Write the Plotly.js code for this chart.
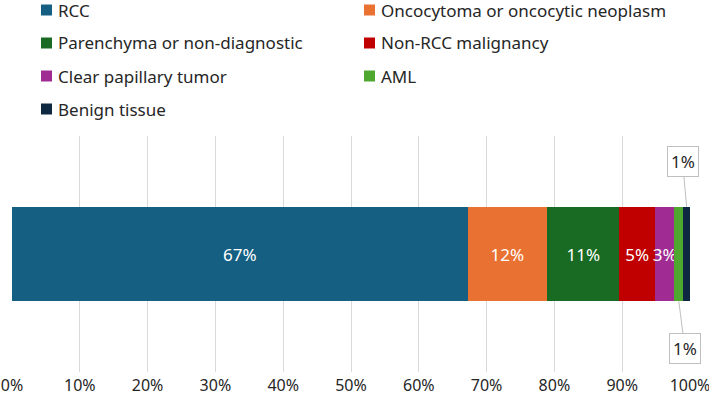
<!DOCTYPE html>
<html>
<head>
<meta charset="utf-8">
<script src="https://cdn.plot.ly/plotly-3.0.1.min.js"></script>
<style>html,body{margin:0;padding:0;background:#fff}#chart{width:709px;height:402px}</style>
</head>
<body>
<div id="chart"></div>
<script>
const categories = ["RCC", "Oncocytoma or oncocytic neoplasm", "Parenchyma or non-diagnostic", "Non-RCC malignancy", "Clear papillary tumor", "AML", "Benign tissue"];
const values = [67.2, 11.7, 10.7, 5.2, 2.9, 1.3, 1.0];
const colors = ["#156082", "#E97132", "#196B24", "#C00000", "#A02B93", "#4EA72E", "#0E2841"];
const tickVals = [0, 10, 20, 30, 40, 50, 60, 70, 80, 90, 100];
const tickText = ["0%", "10%", "20%", "30%", "40%", "50%", "60%", "70%", "80%", "90%", "100%"];
const callouts = {"Benign tissue": "above", "AML": "below"};

const FONT = "Noto Sans, Lato, sans-serif";
const TEXT = "#262626";
const W = 709, H = 402;
const M = {l: 12, r: 19, t: 136, b: 30};
const PW = W - M.l - M.r, PH = H - M.t - M.b;
const BARW = 0.40;

const traces = categories.map((c, i) => ({
  type: "bar",
  orientation: "h",
  name: c,
  y: [0],
  x: [values[i]],
  width: BARW,
  marker: {color: colors[i], line: {width: 0}},
  text: [callouts[c] ? "" : Math.round(values[i]) + "%"],
  textposition: "inside",
  insidetextanchor: "middle",
  textangle: 0,
  constraintext: "none",
  textfont: {color: "#ffffff", size: 17, family: FONT},
  hoverinfo: "skip",
  showlegend: false
}));

const annotations = [];
const shapes = [];

// callouts for the small segments
let cum = 0;
categories.forEach((c, i) => {
  const mid = cum + values[i] / 2;
  cum += values[i];
  if (callouts[c]) {
    const up = callouts[c] === "above";
    annotations.push({
      x: mid, y: up ? BARW / 2 : -BARW / 2, xref: "x", yref: "y",
      text: Math.round(values[i]) + "%",
      showarrow: true, arrowhead: 0, arrowwidth: 1, arrowcolor: "#bfbfbf",
      axref: "pixel", ayref: "pixel",
      ax: up ? -4 : 6, ay: up ? -45 : 47,
      bordercolor: "#bfbfbf", borderwidth: 1, borderpad: 3, bgcolor: "#ffffff",
      font: {size: 17, color: TEXT, family: FONT}
    });
  }
});

// legend (two columns, row-wise order)
const px2x = px => (px - M.l) / PW;
const py2y = py => 1 - (py - M.t) / PH;
const legCols = [41, 364], legRow0 = 10, legRowGap = 33, sq = 11;
categories.forEach((c, i) => {
  const cx = legCols[i % 2];
  const cy = legRow0 + Math.floor(i / 2) * legRowGap;
  shapes.push({
    type: "rect", xref: "paper", yref: "paper",
    x0: px2x(cx), x1: px2x(cx + sq), y0: py2y(cy - sq / 2), y1: py2y(cy + sq / 2),
    fillcolor: colors[i], line: {width: 0}
  });
  annotations.push({
    xref: "paper", yref: "paper", x: px2x(cx + sq + 4), y: py2y(cy),
    xanchor: "left", yanchor: "middle", showarrow: false,
    text: c, font: {size: 17, color: TEXT, family: FONT}
  });
});

const layout = {
  width: W, height: H,
  margin: M,
  paper_bgcolor: "#ffffff", plot_bgcolor: "#ffffff",
  barmode: "stack",
  showlegend: false,
  xaxis: {
    range: [0, 100], tickvals: tickVals, ticktext: tickText,
    showgrid: true, gridcolor: "#d9d9d9", gridwidth: 1,
    zeroline: false, showline: false, ticks: "",
    ticklabelstandoff: 2,
    ticklabeloverflow: "allow",
    automargin: false,
    tickfont: {size: 16, color: TEXT, family: FONT},
    fixedrange: true
  },
  yaxis: {
    visible: false, type: "linear", range: [-0.5, 0.5], fixedrange: true
  },
  shapes: shapes,
  annotations: annotations
};

Plotly.newPlot("chart", traces, layout, {displayModeBar: false, staticPlot: true});
</script>
</body>
</html>
